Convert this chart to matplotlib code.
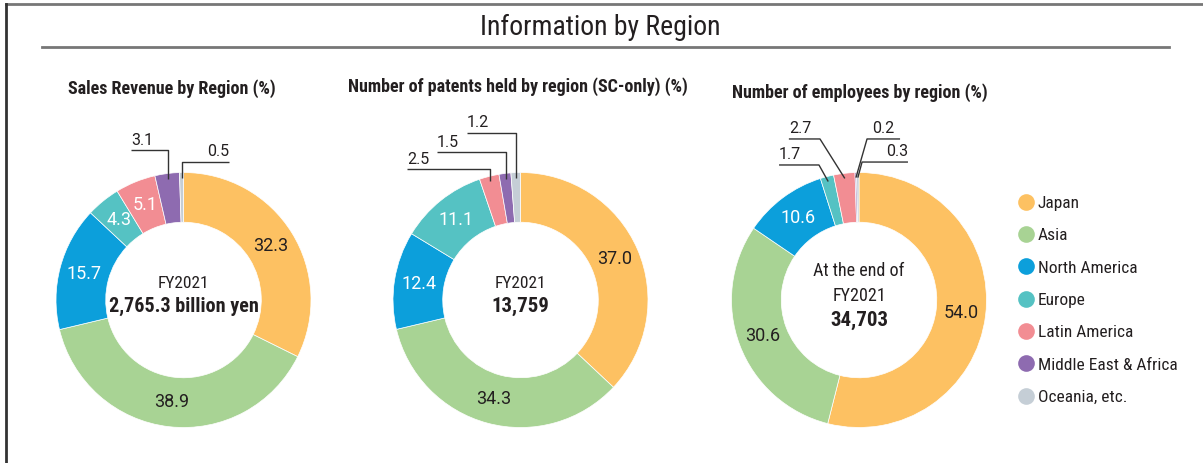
import matplotlib
matplotlib.use('Agg')
import matplotlib.pyplot as plt
from matplotlib import font_manager
from matplotlib.lines import Line2D
import numpy as np

# data
regions = ['Japan', 'Asia', 'North America', 'Europe', 'Latin America',
           'Middle East & Africa', 'Oceania, etc.']
colors = ['#FDC162', '#A8D394', '#0C9FDB', '#55C2C3', '#F28D93', '#8E6BB0', '#C5CED6']

sales = [32.3, 38.9, 15.7, 4.3, 5.1, 3.1, 0.5]
patents = [37.0, 34.3, 12.4, 11.1, 2.5, 1.5, 1.2]
employees = [54.0, 30.6, 10.6, 1.7, 2.7, 0.2, 0.3]

chart_titles = ['Sales Revenue by Region (%)',
                'Number of patents held by region (SC-only) (%)',
                'Number of employees by region (%)']
center_lines = [['FY2021', '2,765.3 billion yen'],
                ['FY2021', '13,759'],
                ['At the end of', 'FY2021', '34,703']]

installed = {f.name for f in font_manager.fontManager.ttflist}
narrow = next((f for f in ['Liberation Sans Narrow', 'Roboto Condensed', 'Roboto']
               if f in installed), 'DejaVu Sans')
numfont = 'Roboto' if 'Roboto' in installed else 'DejaVu Sans'
plt.rcParams['font.family'] = [narrow, 'DejaVu Sans']

W, H = 1203, 463
fig = plt.figure(figsize=(W / 100, H / 100), dpi=100)

# overlay axes in pixel coordinates for frame, title, subtitles
over = fig.add_axes([0, 0, 1, 1])
over.set_xlim(0, W)
over.set_ylim(H, 0)
over.axis('off')
over.plot([6, W], [4, 4], color='#777777', lw=2)
over.plot([6, 6], [4, H], color='#333333', lw=2)
over.plot([42, 1169], [47, 47], color='#777777', lw=2)
over.text(600, 27, 'Information by Region', ha='center', va='center',
          fontsize=20, color='#231F20')

R = 127.5
L = 1.45
centers = [(183.5, 300), (520.5, 300), (859, 300)]
sub_pos = [(172, 89), (518, 87), (860, 93)]
dark = '#231F20'

# leader layout: slice index, elbow (x or None for vertical, y), end x, text align
leaders = [
    [(5, None, 1.176, -0.41, 'left'), (6, None, 1.082, 0.357, 'right')],
    [(6, None, 1.31, -0.42, 'left'), (5, None, 1.16, -0.655, 'left'),
     (4, None, 1.027, -0.89, 'left')],
    [(4, -0.306, 1.263, -0.55, 'left'), (3, -0.314, 1.059, -0.627, 'left'),
     (5, 0.063, 1.263, 0.322, 'center'), (6, 0.024, 1.082, 0.384, 'right')],
]
inside_count = [5, 4, 3]
center_y = [[0.133, -0.047], [0.133, -0.047], [0.227, 0.031, -0.157]]
center_size = [[12.5, 14.5], [12.5, 15], [13, 13, 15]]
center_bold = [[False, True], [False, True], [False, False, True]]

for k, values in enumerate([sales, patents, employees]):
    cx, cy = centers[k]
    ax = fig.add_axes([(cx - L * R) / W, 1 - (cy + L * R) / H, 2 * L * R / W, 2 * L * R / H])
    wedges, _ = ax.pie(values, colors=colors, startangle=90, counterclock=False, radius=1,
                       wedgeprops=dict(width=0.39, edgecolor='white', linewidth=0.5))
    ax.set_xlim(-L, L)
    ax.set_ylim(-L, L)
    ax.axis('off')

    mids = [np.deg2rad((w.theta1 + w.theta2) / 2) for w in wedges]
    for i in range(inside_count[k]):
        r = 0.805
        col = dark if i < 2 else 'white'
        ax.text(r * np.cos(mids[i]), r * np.sin(mids[i]), f'{values[i]:.1f}',
                ha='center', va='center', fontsize=13, color=col, family=numfont)

    for idx, ex, ey, endx, al in leaders[k]:
        a = mids[idx]
        px, py = 0.96 * np.cos(a), 0.96 * np.sin(a)
        bx = px if ex is None else ex
        ax.plot([px, bx, endx], [py, ey, ey], color='#333333', lw=1, solid_capstyle='butt')
        if al == 'left':
            tx = min(bx, endx)
        elif al == 'right':
            tx = max(bx, endx)
        else:
            tx = (bx + endx) / 2
        ax.text(tx, ey + 0.02, f'{values[idx]:.1f}', ha=al, va='bottom',
                fontsize=11.5, color=dark, family=numfont)

    for line, y, fs, b in zip(center_lines[k], center_y[k], center_size[k], center_bold[k]):
        ax.text(0, y, line, ha='center', va='center', fontsize=fs, color=dark,
                fontweight='bold' if b else 'normal')

    sx, sy = sub_pos[k]
    over.text(sx, sy, chart_titles[k], ha='center', va='center', fontsize=13,
              fontweight='bold', color=dark)

handles = [Line2D([], [], marker='o', linestyle='', markersize=12, markerfacecolor=c,
                  markeredgecolor='none') for c in colors]
over.legend(handles, regions, loc='upper left', bbox_to_anchor=(1010, 187),
            bbox_transform=over.transData, frameon=False, fontsize=12.5,
            handlelength=0.8, handletextpad=0.3, labelspacing=0.99, borderpad=0,
            labelcolor=dark)

fig.savefig('out.png', dpi=100)
